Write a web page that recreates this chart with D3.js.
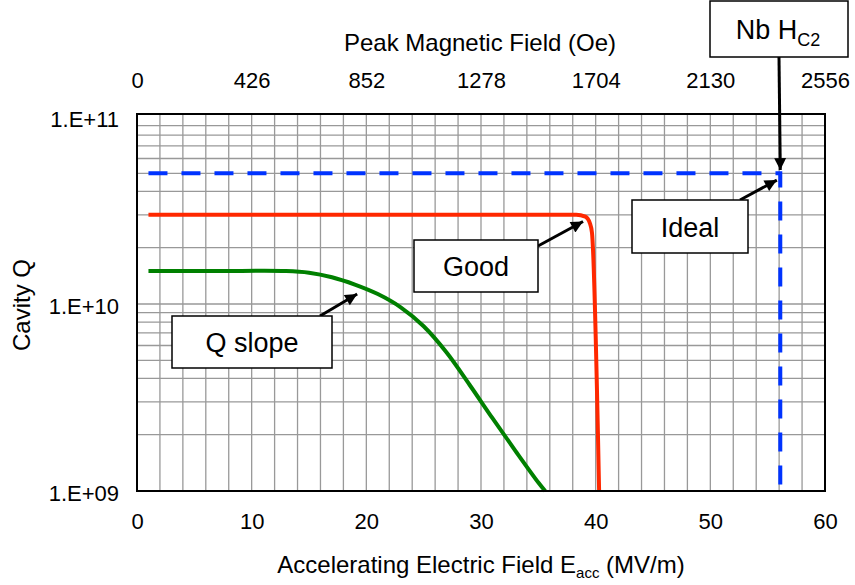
<!DOCTYPE html>
<html>
<head>
<meta charset="utf-8">
<script src="https://cdn.jsdelivr.net/npm/d3@7/dist/d3.min.js"></script>
<style>
  body { margin: 0; background: #fff; }
  svg { display: block; font-family: "Liberation Sans", Arial, sans-serif; }
</style>
</head>
<body>
<svg id="chart" width="855" height="585"></svg>
<script>
// --- data ---
const xTicks = [0, 10, 20, 30, 40, 50, 60]                     // MV/m
const topTicks = [0, 426, 852, 1278, 1704, 2130, 2556]         // Oe
const yTicks = [1e9, 1e10, 1e11]
const yTickLabels = ["1.E+09", "1.E+10", "1.E+11"]

const idealE = [1, 56.1, 56.1]
const idealQ = [5e10, 5e10, 1e9]

const goodE = [1, 10, 20, 30, 38.3, 39.1, 39.5, 39.68, 40.3]
const goodQ = [3e10, 3e10, 3e10, 3e10, 3e10, 2.93e10, 2.7e10, 2.4e10, 1e9]

const slopeE = [1, 7, 13, 15, 17, 19, 21, 23, 25, 27, 29, 31, 33, 35, 35.6]
const slopeQ = [1.5e10, 1.5e10, 1.5e10, 1.47e10, 1.39e10, 1.27e10, 1.13e10, 9.6e9,
                7.6e9, 5.5e9, 3.7e9, 2.45e9, 1.64e9, 1.11e9, 1e9]

// annotation labels and where their arrows point (data coords)
const noteText = ["Nb H", "Ideal", "Good", "Q slope"]
const noteTipE = [56.1, 55.8, 38.9, 19.2]
const noteTipQ = [5.2e10, 4.6e10, 2.76e10, 1.13e10]

// --- layout (pixels) ---
const W = 855, H = 585
const plot = {left: 137, right: 825, top: 117, bottom: 491, frameTop: 114}
const boxes = [  // x, y, w, h, arrow start
  {x: 710, y: 1, w: 138, h: 56, ax: 779, ay: 57},
  {x: 632, y: 200, w: 116, h: 53, ax: 740, ay: 200},
  {x: 414, y: 240, w: 124, h: 52, ax: 538, ay: 246},
  {x: 172, y: 316, w: 160, h: 52, ax: 320, ay: 316}
]

const svg = d3.select("#chart")
svg.append("rect").attr("width", W).attr("height", H).attr("fill", "#fff")

const x = d3.scaleLinear().domain([0, 60]).range([plot.left, plot.right])
const xTop = d3.scaleLinear().domain([0, 2556]).range([plot.left, plot.right])
const y = d3.scaleLog().domain([1e9, 1e11]).range([plot.bottom, plot.top])

// gridlines
const grid = svg.append("g").attr("stroke", "#999").attr("stroke-width", 1.3)
grid.selectAll("line.v").data(d3.range(2, 60, 2)).join("line")
  .attr("x1", d => x(d)).attr("x2", d => x(d))
  .attr("y1", plot.frameTop).attr("y2", plot.bottom)
const minor = []
for (const dec of [1e9, 1e10]) for (let k = 2; k <= 10; k++) minor.push(k * dec)
grid.selectAll("line.h").data(minor.filter(v => v < 1e11)).join("line")
  .attr("x1", plot.left).attr("x2", plot.right)
  .attr("y1", d => y(d)).attr("y2", d => y(d))

// axes labels (no tick marks)
const fs = 22, tfs = 24
const bottomAxis = d3.axisBottom(x).tickValues(xTicks).tickSize(0).tickPadding(0)
const gb = svg.append("g").attr("transform", `translate(0,${plot.bottom + 38})`).call(bottomAxis)
const topAxis = d3.axisTop(xTop).tickValues(topTicks).tickSize(0).tickPadding(0)
  .tickFormat(d3.format("d"))
const gt = svg.append("g").attr("transform", `translate(0,${plot.top - 29})`).call(topAxis)
const leftAxis = d3.axisLeft(y).tickValues(yTicks).tickSize(0).tickPadding(0)
  .tickFormat((d, i) => yTickLabels[i])
const gl = svg.append("g").attr("transform", `translate(${plot.left - 18},2)`).call(leftAxis)
for (const g of [gb, gt, gl]) {
  g.select(".domain").remove()
  g.selectAll("text").attr("font-size", fs).attr("font-family", null).attr("fill", "#000")
}
gb.selectAll("text").attr("dy", "0").attr("y", 0)
gt.selectAll("text").attr("dy", "0").attr("y", 0)

// axis titles
svg.append("text").attr("x", 480).attr("y", 51).attr("text-anchor", "middle")
  .attr("font-size", tfs).text("Peak Magnetic Field (Oe)")
const xt = svg.append("text").attr("x", 481).attr("y", 573).attr("text-anchor", "middle")
  .attr("font-size", tfs)
xt.append("tspan").text("Accelerating Electric Field E")
xt.append("tspan").attr("font-size", 15).attr("dy", 5).text("acc")
xt.append("tspan").attr("dy", -5).text(" (MV/m)")
svg.append("text").attr("transform", "translate(30,305) rotate(-90)")
  .attr("text-anchor", "middle").attr("font-size", tfs).text("Cavity Q")

// series
const line = d3.line().x(d => x(d[0])).y(d => y(d[1]))
svg.append("path").datum(d3.zip(slopeE, slopeQ)).attr("d", line.curve(d3.curveCatmullRom.alpha(0.5)))
  .attr("fill", "none").attr("stroke", "#008000").attr("stroke-width", 4)
svg.append("path").datum(d3.zip(goodE, goodQ)).attr("d", line.curve(d3.curveMonotoneX))
  .attr("fill", "none").attr("stroke", "#ff2800").attr("stroke-width", 4)
svg.append("path").datum(d3.zip(idealE, idealQ)).attr("d", line.curve(d3.curveLinear))
  .attr("fill", "none").attr("stroke", "#0033ff").attr("stroke-width", 4)
  .attr("stroke-dasharray", "19,14")

// frame
svg.append("rect").attr("x", plot.left).attr("y", plot.frameTop)
  .attr("width", plot.right - plot.left).attr("height", plot.bottom - plot.frameTop)
  .attr("fill", "none").attr("stroke", "#000").attr("stroke-width", 2)

// annotations
svg.append("defs").append("marker").attr("id", "head")
  .attr("viewBox", "0 0 12 12").attr("refX", 12).attr("refY", 6)
  .attr("markerWidth", 13).attr("markerHeight", 12)
  .attr("markerUnits", "userSpaceOnUse").attr("orient", "auto")
  .append("path").attr("d", "M0,0L12,6L0,12Z").attr("fill", "#000")

noteText.forEach((t, i) => {
  const b = boxes[i]
  svg.append("line").attr("x1", b.ax).attr("y1", b.ay)
    .attr("x2", x(noteTipE[i])).attr("y2", y(noteTipQ[i]))
    .attr("stroke", "#000").attr("stroke-width", 3).attr("marker-end", "url(#head)")
  svg.append("rect").attr("x", b.x).attr("y", b.y).attr("width", b.w).attr("height", b.h)
    .attr("fill", "#fff").attr("stroke", "#000").attr("stroke-width", 1.5)
  const tx = svg.append("text").attr("x", b.x + b.w / 2).attr("y", b.y + b.h / 2 + 10)
    .attr("text-anchor", "middle").attr("font-size", 27).text(t)
  if (i === 0) {
    tx.attr("x", b.x + b.w / 2 - 1)
    tx.append("tspan").attr("font-size", 18).attr("dy", 7).text("C2")
  }
})
</script>
</body>
</html>
